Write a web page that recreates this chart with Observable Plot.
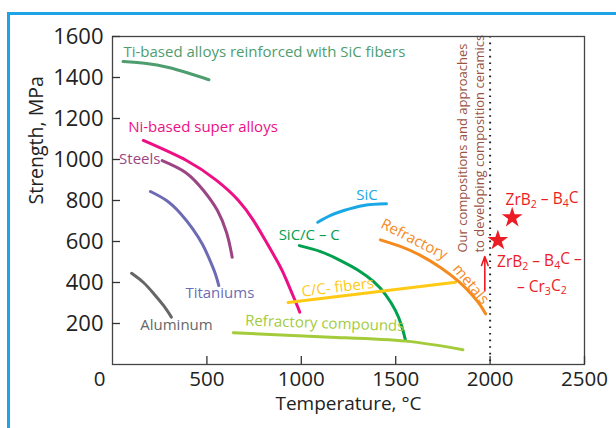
<!DOCTYPE html>
<html><head><meta charset="utf-8">
<script src="https://cdn.jsdelivr.net/npm/d3@7"></script>
<script src="https://cdn.jsdelivr.net/npm/@observablehq/plot@0.6"></script>
<style>
body{margin:0;background:#fff;}
#wrap{position:relative;width:616px;height:428px;overflow:hidden;background:#fff;}
#border{position:absolute;left:7px;top:12px;width:620px;height:430px;border-left:3px solid #1ea4e4;border-top:3px solid #1ea4e4;}
#chart{position:absolute;left:0;top:0;}
</style></head><body>
<div id="wrap"><div id="border"></div><div id="chart"></div></div>
<script>
// axis ticks
const xTicks = [500, 1000, 1500, 2000, 2500];
const xTickLabels = [500, 1000, 1500, 2000, 2500];
const xZeroLabel = [0];
const yTicks = [200, 400, 600, 800, 1000, 1200, 1400, 1600];

// material curves: [temperature °C, strength MPa]
const tiAlloys   = [[56,1478],[180,1468],[291,1450],[400,1422],[511,1389]];
const niAlloys   = [[163,1093],[392,995],[551,898],[667,800],[747,702],[810,605],[885,483],[922,410],[967,312],[992,255]];
const steels     = [[263,995],[387,937],[482,849],[556,751],[604,644],[625,566],[634,523]];
const titaniums  = [[201,844],[286,800],[360,737],[424,663],[477,585],[519,502],[546,439],[563,385]];
const aluminum   = [[101,445],[164,400],[219,345],[270,288],[312,231]];
const sic        = [[1087,694],[1155,727],[1225,751],[1331,776],[1451,784]];
const sicCC      = [[990,580],[1102,551],[1208,507],[1303,459],[1382,405],[1446,341],[1499,263],[1531,190],[1552,117]];
const ccFibers   = [[930,302],[1817,401]];
const refCompounds = [[640,155],[1156,133],[1553,114],[1856,72]];
const refMetals  = [[1419,608],[1525,576],[1631,532],[1737,473],[1833,405],[1907,337],[1949,288],[1976,247]];

const seriesNames  = ["Ti","Ni","Steels","Titaniums","Aluminum","SiC","SiC/C-C","C/C","RefComp","RefMet"];
const seriesData   = [tiAlloys,niAlloys,steels,titaniums,aluminum,sic,sicCC,ccFibers,refCompounds,refMetals];
const seriesColors = ["#4e9d6f","#ec0f85","#9c4585","#6e6bb5","#666666","#1aa7e6","#00a04e","#ffc914","#a3cb3a","#f58a1f"];

// labels
const labelText  = ["Ti-based alloys reinforced with SiC fibers","Ni-based super alloys","Steels","Titaniums","Aluminum","SiC","SiC/C – C","C/C- fibers","Refractory compounds","Refractory","metals"];
const labelT     = [58, 83, 35, 386, 147, 1348, 880, 1193, 1124, 1598, 1898];
const labelS     = [1522, 1156, 1000, 348, 190, 828, 629, 376, 200, 610, 392];
const labelColor = ["#4e9d6f","#ec0f85","#9c4585","#6e6bb5","#666666","#1aa7e6","#00a04e","#ffc914","#a3cb3a","#f58a1f","#f58a1f"];
const labelAnchor= ["start","start","start","start","start","middle","start","middle","middle","middle","middle"];
const labelRotate= [0,0,0,0,0,0,0,-7,2,27,50];

// our compositions
const noteText = ["Our compositions and approaches","to developing composition ceramics"];
const noteT = [1858, 1944];
const noteS = [546, 546];
const limitT = [2000];
const starT = [2041, 2117];
const starS = [605, 716];
const compText = ["ZrB_2 – B_4C","ZrB_2 – B_4C –","– Cr_3C_2"];
const compT = [2275, 2261, 2274];
const compS = [800, 499, 377];
const arrowFrom = [1972, 361];
const arrowTo = [1972, 527];

const red = "#ec1c24";
const lines = seriesData.flatMap((d, i) => d.map(([t, s]) => ({t, s, name: seriesNames[i]})));
const labels = labelText.map((text, i) => ({text, t: labelT[i], s: labelS[i], color: labelColor[i], anchor: labelAnchor[i], rotate: labelRotate[i]}));

const textMarks = labels.map(l => Plot.text([l], {x: "t", y: "s", text: "text", fill: l.color, textAnchor: l.anchor, rotate: l.rotate, fontSize: 15}));

const plot = Plot.plot({
  width: 616, height: 428,
  marginLeft: 112, marginRight: 32, marginTop: 36, marginBottom: 64,
  style: {fontFamily: "'Open Sans', sans-serif", background: "transparent", color: "#222"},
  x: {domain: [0, 2500]},
  y: {domain: [0, 1600]},
  color: {domain: seriesNames, range: seriesColors},
  marks: [
    Plot.ruleX(limitT, {stroke: "#222", strokeWidth: 2, strokeDasharray: "1.6,5"}),
    Plot.line(lines, {x: "t", y: "s", z: "name", stroke: "name", strokeWidth: 3, curve: "natural"}),
    ...textMarks,
    Plot.text(noteText.map((text, i) => ({text, t: noteT[i], s: noteS[i]})), {x: "t", y: "s", text: "text", rotate: -90, textAnchor: "start", fill: "#9a5242", fontSize: 13}),
    Plot.dot(starT.map((t, i) => ({t, s: starS[i]})), {x: "t", y: "s", symbol: "star", r: 6.5, fill: red, stroke: "none"}),
    Plot.arrow([{x1: arrowFrom[0], y1: arrowFrom[1], x2: arrowTo[0], y2: arrowTo[1]}], {x1: "x1", y1: "y1", x2: "x2", y2: "y2", stroke: red, strokeWidth: 1.6, headLength: 9, headAngle: 40}),
    Plot.text(compText.map((text, i) => ({text, t: compT[i], s: compS[i]})), {x: "t", y: "s", text: "text", fill: red, fontSize: 15.5}),
    Plot.frame({stroke: "#444", strokeWidth: 1.3}),
    Plot.axisY(yTicks, {tickSize: -8, fill: "none", stroke: "#333", strokeWidth: 1.3}),
    Plot.axisY(yTicks, {tickSize: 0, tickPadding: 9, tickFormat: d => String(d), fontSize: 22, fill: "#222"}),
    Plot.axisX(xTicks, {tickSize: -8, fill: "none", stroke: "#333", strokeWidth: 1.3}),
    Plot.axisX(xTickLabels, {tickSize: 0, tickPadding: 7, tickFormat: d => String(d), fontSize: 20.5, fill: "#222"}),
    Plot.axisX(xZeroLabel, {tickSize: 0, tickPadding: 7, dx: -13, tickFormat: d => String(d), fontSize: 20.5, fill: "#222"}),
    Plot.text(["Temperature, °C"], {frameAnchor: "bottom", dy: 45, fontSize: 19, fill: "#222"}),
    Plot.text(["Strength, MPa"], {frameAnchor: "left", dx: -76, dy: 4, rotate: -90, fontSize: 19.5, fill: "#222"})
  ]
});

// subscripts
d3.select(plot).selectAll("text").each(function() {
  const t = this.textContent;
  if (!t.includes("_")) return;
  const parts = t.split(/_(\d)/);
  this.textContent = "";
  parts.forEach((p, i) => {
    const ts = d3.select(this).append("tspan").text(p);
    if (i % 2 === 1) ts.attr("font-size", "0.68em").attr("dy", "0.28em");
    else if (i > 0) ts.attr("dy", "-0.28em");
  });
});

document.getElementById("chart").appendChild(plot);
</script>
</body></html>
